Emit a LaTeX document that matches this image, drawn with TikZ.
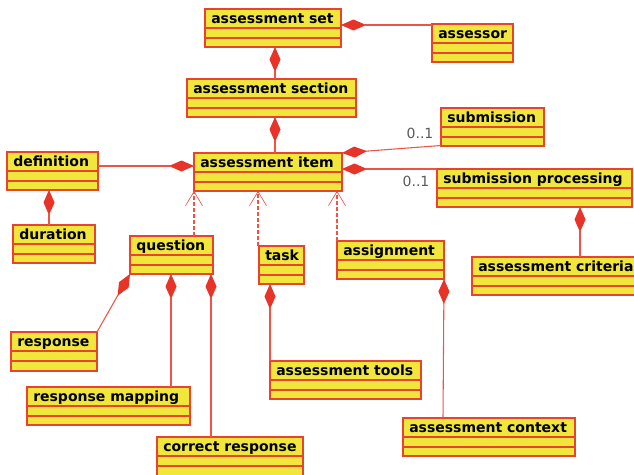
\documentclass[tikz,border=0pt]{standalone}
\usepackage{fontspec}
\setmainfont{DejaVu Sans}
\usetikzlibrary{arrows.meta,calc}

\definecolor{classfill}{RGB}{240,230,60}
\definecolor{classline}{RGB}{232,67,46}
\definecolor{linkred}{RGB}{236,84,72}
\definecolor{diamred}{RGB}{232,52,40}
\definecolor{multgray}{RGB}{90,90,90}

\tikzset{
  classbox/.style={draw=classline, fill=classfill, line width=1pt, anchor=north west,
    inner sep=0pt, outer sep=0pt},
  classrule/.style={draw=classline, line width=0.9pt},
  classname/.style={anchor=base west, inner sep=0pt,
    font=\fontsize{10.5}{12}\selectfont\bfseries},
  comp/.style={draw=linkred, line width=0.8pt,
    {Diamond[length=18.75pt,width=8.25pt,fill=diamred,color=diamred]}-},
  realize/.style={draw=linkred, line width=0.8pt, dash pattern=on 3pt off 1.5pt,
    -{Straight Barb[length=10.5pt,width=12.75pt,line width=0.5pt]}},
  mult/.style={font=\fontsize{10.5}{12}\selectfont, text=multgray, inner sep=0pt}
}

% class box with name compartment and two empty compartments
% #1 name, #2 left, #3 top, #4 right, #5 bottom, #6 label
\newcommand\umlclass[6]{%
  \node[classbox, minimum width={(#4-#2)*0.75pt}, minimum height={(#5-#3)*0.75pt}] (#1) at (#2,#3) {};
  \draw[classrule] ($(#1.north west)+(0,19)$) -- ($(#1.north east)+(0,19)$);
  \draw[classrule] ($(#1.north west)+(0,29)$) -- ($(#1.north east)+(0,29)$);
  \node[classname] (#1-name) at ($(#1.north west)+(6,14.5)$) {#6};
}

\begin{document}
\begin{tikzpicture}[x=0.75pt, y=-0.75pt]
\path[use as bounding box, clip] (0,0) rectangle (634,474);

% classes
\umlclass{aset}{205}{9}{341}{47}{assessment set}
\umlclass{assessor}{432}{24}{513}{62}{assessor}
\umlclass{asection}{187}{79}{356}{117}{assessment section}
\umlclass{definition}{7}{152}{98}{190}{definition}
\umlclass{aitem}{194}{153}{342}{191}{assessment item}
\umlclass{submission}{441}{108}{544}{146}{submission}
\umlclass{subproc}{437}{169}{632}{207}{submission processing}
\umlclass{duration}{13}{225}{95}{263}{duration}
\umlclass{question}{130}{236}{213}{274}{question}
\umlclass{task}{259}{246}{304}{284}{task}
\umlclass{assignment}{337}{241}{444}{279}{assignment}
\umlclass{criteria}{472}{257}{660}{295}{assessment criteria}
\umlclass{response}{11}{332}{97}{371}{response}
\umlclass{rmapping}{27}{387}{190}{425}{response mapping}
\umlclass{correct}{157}{437}{303}{476}{correct response}
\umlclass{tools}{270}{361}{421}{399}{assessment tools}
\umlclass{context}{403}{418}{575}{456}{assessment context}

% compositions
\draw[comp] ($(aset.north east)+(0,16)$) -- ($(assessor.north west)+(0,1)$);
\draw[comp] ($(aset.south)+(2,0)$) -- ($(asection.north)+(3.5,0)$);
\draw[comp] ($(asection.south)+(3.5,0)$) -- ($(aitem.north)+(7,0)$);
\draw[comp] ($(aitem.north west)+(0,13)$) -- ($(definition.north east)+(0,14)$);
\draw[comp] (aitem.north east) -- ($(submission.south west)+(0,-0.5)$);
\draw[comp] ($(aitem.north east)+(0,16)$) -- (subproc.north west);
\draw[comp] ($(definition.south)+(-3.5,0)$) -- ($(duration.north)+(-5,0)$);
\draw[comp] (question.south west) -- (response.north east);
\draw[comp] ($(question.south)+(-0.5,0)$) -- ($(rmapping.north west)+(144,0)$);
\draw[comp] ($(question.south east)+(-2,0)$) -- ($(correct.north west)+(54,0)$);
\draw[comp] ($(task.south west)+(11,0)$) -- (tools.north west);
\draw[comp] ($(subproc.south west)+(143,0)$) -- ($(criteria.north west)+(108,0)$);
\draw[comp] (assignment.south east) -- ($(context.north west)+(40,0)$);

% multiplicities
\node[mult] (m-sub) at (420,133) {0..1};
\node[mult] (m-proc) at (416,181) {0..1};

% realizations
\draw[realize] ($(question.north east)+(-19,0)$) -- (aitem.south west);
\draw[realize] ($(task.north west)+(-1,0)$) -- ($(aitem.south west)+(64,0)$);
\draw[realize] (assignment.north west) -- ($(aitem.south west)+(143,0)$);
\end{tikzpicture}
\end{document}
